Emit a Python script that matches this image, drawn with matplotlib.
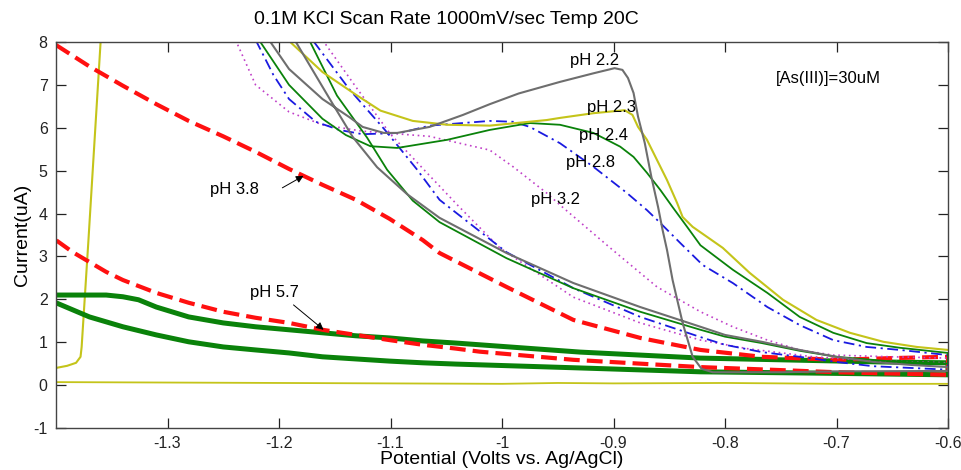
import numpy as np
import matplotlib
matplotlib.use("Agg")
import matplotlib.pyplot as plt

plt.rcParams['font.family'] = ['Liberation Sans', 'DejaVu Sans']
plt.rcParams['axes.unicode_minus'] = False

# --- DATA ---

# pH 2.2 (gray): forward branch, then return branch
ph22_x = [-1.209, -1.191, -1.161, -1.137, -1.125, -1.106, -1.094, -1.065, -1.035, -1.011,
          -0.985, -0.948, -0.918, -0.899, -0.892, -0.887, -0.882, -0.878, -0.872, -0.866,
          -0.860, -0.856, -0.852, -0.847, -0.838, -0.829, -0.821, -0.811, -0.750, -0.700,
          -0.600,
          -0.600, -0.633, -0.667, -0.700, -0.733, -0.767, -0.800, -0.822, -0.876, -0.936,
          -0.996, -1.056, -1.085, -1.112, -1.134, -1.154, -1.170, -1.186]
ph22_y = [8.05, 7.37, 6.67, 6.25, 6.02, 5.88, 5.88, 6.02, 6.30, 6.55,
          6.80, 7.07, 7.27, 7.39, 7.35, 7.16, 6.81, 6.26, 5.65, 4.85,
          4.15, 3.62, 3.15, 2.45, 1.45, 0.66, 0.38, 0.30, 0.30, 0.32,
          0.33,
          0.42, 0.47, 0.54, 0.66, 0.82, 1.01, 1.17, 1.36, 1.82, 2.38,
          3.08, 3.90, 4.45, 5.08, 5.79, 6.65, 7.35, 8.05]

# pH 2.3 (yellow) forward branch
ph23_x = [-1.192, -1.161, -1.131, -1.109, -1.080, -1.049, -1.011, -0.960, -0.948, -0.918,
          -0.890, -0.883, -0.878, -0.870, -0.861, -0.852, -0.843, -0.838, -0.829, -0.813,
          -0.802, -0.778, -0.748, -0.718, -0.688, -0.658, -0.628, -0.600]
ph23_y = [8.05, 7.30, 6.77, 6.40, 6.16, 6.07, 6.05, 6.18, 6.23, 6.34,
          6.41, 6.30, 6.02, 5.72, 5.25, 4.78, 4.25, 3.92, 3.69, 3.40,
          3.20, 2.62, 1.99, 1.52, 1.22, 1.01, 0.89, 0.82]
# yellow rise at the left edge and yellow baseline
spike_x = [-1.400, -1.390, -1.382, -1.378, -1.377, -1.371, -1.358]
spike_y = [0.40, 0.45, 0.52, 0.66, 0.89, 3.34, 8.85]
base_x = [-1.40, -1.30, -1.20, -1.10, -1.00, -0.95, -0.90, -0.80, -0.70, -0.60]
base_y = [0.07, 0.06, 0.05, 0.04, 0.03, 0.05, 0.04, 0.05, 0.03, 0.03]

# pH 2.4 (green, thin)
ph24_x = [-1.218, -1.191, -1.161, -1.140, -1.118, -1.094, -1.049, -1.011, -0.975, -0.948,
          -0.918, -0.894, -0.882, -0.870, -0.858, -0.847, -0.834, -0.822, -0.793, -0.762,
          -0.733, -0.703, -0.673, -0.643, -0.600,
          -0.600, -0.650, -0.700, -0.733, -0.767, -0.800, -0.822, -0.876, -0.936, -0.996,
          -1.056, -1.080, -1.103, -1.121, -1.148, -1.173]
ph24_y = [8.05, 7.00, 6.21, 5.83, 5.57, 5.53, 5.72, 5.95, 6.11, 6.07,
          5.88, 5.56, 5.32, 4.95, 4.55, 4.15, 3.69, 3.26, 2.69, 2.15,
          1.59, 1.22, 0.98, 0.87, 0.75,
          0.50, 0.55, 0.66, 0.80, 0.98, 1.13, 1.29, 1.71, 2.26, 2.96,
          3.80, 4.30, 5.02, 5.77, 6.75, 8.05]

# pH 2.8 (blue dash-dot)
ph28_x = [-1.221, -1.205, -1.191, -1.167, -1.146, -1.125, -1.091, -1.065, -1.011, -0.990,
          -0.975, -0.948, -0.918, -0.888, -0.870, -0.858, -0.840, -0.820, -0.793, -0.762,
          -0.733, -0.703, -0.673, -0.643, -0.600,
          -0.600, -0.633, -0.667, -0.700, -0.733, -0.767, -0.800, -0.822, -0.876, -0.936,
          -0.996, -1.056, -1.076, -1.105, -1.137, -1.170]
ph28_y = [8.05, 7.23, 6.67, 6.14, 5.95, 5.85, 5.88, 6.05, 6.16, 6.14,
          6.02, 5.64, 5.09, 4.48, 4.08, 3.78, 3.31, 2.80, 2.38, 1.82,
          1.40, 1.05, 0.89, 0.82, 0.70,
          0.36, 0.40, 0.44, 0.54, 0.66, 0.77, 0.94, 1.12, 1.59, 2.26,
          3.10, 4.32, 5.02, 5.95, 6.90, 8.05]

# pH 3.2 (magenta dotted)
ph32_x = [-1.239, -1.221, -1.191, -1.161, -1.125, -1.065, -1.011, -0.990, -0.960, -0.948,
          -0.903, -0.861, -0.822, -0.793, -0.762, -0.733, -0.703, -0.650, -0.600,
          -0.600, -0.661, -0.721, -0.780, -0.822, -0.876, -0.936, -1.002, -1.040, -1.071,
          -1.100, -1.131, -1.161]
ph32_y = [8.05, 7.00, 6.37, 6.07, 5.92, 5.80, 5.48, 5.09, 4.48, 4.20,
          3.20, 2.29, 1.71, 1.36, 1.05, 0.82, 0.70, 0.66, 0.63,
          0.52, 0.56, 0.66, 0.85, 1.05, 1.45, 2.05, 3.20, 4.20, 5.05,
          5.85, 6.95, 8.05]

# pH 3.8 (red dashed)
ph38_x = [-1.400, -1.370, -1.340, -1.310, -1.281, -1.250, -1.221, -1.191, -1.161, -1.131,
          -1.101, -1.071, -1.056, -0.996, -0.936, -0.876, -0.822, -0.767, -0.700, -0.650,
          -0.600,
          -0.600, -0.700, -0.750, -0.822, -0.876, -0.936, -1.020, -1.041, -1.071, -1.101,
          -1.131, -1.161, -1.191, -1.221, -1.250, -1.281, -1.310, -1.340, -1.355, -1.370,
          -1.385, -1.400]
ph38_y = [7.93, 7.43, 6.98, 6.55, 6.16, 5.80, 5.44, 5.04, 4.67, 4.32,
          3.88, 3.38, 3.08, 2.29, 1.52, 1.10, 0.82, 0.66, 0.59, 0.63,
          0.66,
          0.24, 0.30, 0.35, 0.42, 0.50, 0.59, 0.78, 0.85, 0.94, 1.05,
          1.17, 1.29, 1.45, 1.57, 1.71, 1.92, 2.15, 2.45, 2.64, 2.87,
          3.10, 3.38]

# pH 5.7 (green, thick)
ph57_x = [-1.400, -1.355, -1.340, -1.326, -1.310, -1.281, -1.250, -1.221, -1.191, -1.161,
          -1.131, -1.101, -1.071, -1.041, -0.930, -0.822, -0.750, -0.660, -0.600,
          -0.600, -0.720, -0.822, -0.930, -1.041, -1.071, -1.101, -1.131, -1.161, -1.191,
          -1.221, -1.250, -1.281, -1.310, -1.340, -1.370, -1.400]
ph57_y = [2.10, 2.10, 2.06, 1.99, 1.82, 1.59, 1.45, 1.36, 1.29, 1.22,
          1.15, 1.10, 1.03, 0.98, 0.77, 0.63, 0.59, 0.54, 0.52,
          0.24, 0.28, 0.31, 0.40, 0.49, 0.52, 0.56, 0.61, 0.66, 0.75,
          0.82, 0.89, 1.01, 1.17, 1.36, 1.59, 1.92]

# --- PLOT ---
fig = plt.figure(figsize=(9.61, 4.70), dpi=100)
ax = fig.add_axes([56 / 961, 42 / 470, 892 / 961, 386 / 470])

yellow = '#c4c41a'
gray = '#6e6e6e'
green = '#0a820a'

ax.plot(base_x, base_y, color=yellow, lw=1.3)
ax.plot(spike_x, spike_y, color=yellow, lw=1.5)
ax.plot(ph57_x, ph57_y, color=green, lw=3.6)
ax.plot(ph38_x, ph38_y, color='#ff1010', lw=3.0, ls=(0, (3.8, 1.7)))
ax.plot(ph32_x, ph32_y, color='#c040c8', lw=1.2, ls=(0, (1, 2.2)))
ax.plot(ph28_x, ph28_y, color='#1a1ae0', lw=1.3, ls=(0, (6, 2.5, 1.2, 2.5)))
ax.plot(ph24_x, ph24_y, color=green, lw=1.3)
ax.plot(ph23_x, ph23_y, color=yellow, lw=1.5)
ax.plot(ph22_x, ph22_y, color=gray, lw=1.5)

ax.set_xlim(-1.4, -0.6)
ax.set_ylim(-1, 8)
xt = [-1.3, -1.2, -1.1, -1.0, -0.9, -0.8, -0.7, -0.6]
ax.set_xticks(xt)
ax.set_xticklabels(['-1.3', '-1.2', '-1.1', '-1', '-0.9', '-0.8', '-0.7', '-0.6'])
ax.set_yticks(range(-1, 9))
ax.tick_params(direction='in', length=7, width=0.9, top=True, right=True,
               labelsize=11.5, pad=6, colors='#222222')
for sp in ax.spines.values():
    sp.set_color('#444444')
    sp.set_linewidth(1.0)

ax.set_xlabel('Potential (Volts vs. Ag/AgCl)', fontsize=14, labelpad=0)
ax.set_ylabel('Current(uA)', fontsize=14, labelpad=2)
fig.text(446 / 961, 1 - 19 / 470, '0.1M KCl Scan Rate 1000mV/sec Temp 20C',
         ha='center', va='center', fontsize=14)

lab = dict(fontsize=12, ha='center', va='center')
ax.text(-0.917, 7.56, 'pH 2.2', **lab)
ax.text(-0.902, 6.48, 'pH 2.3', **lab)
ax.text(-0.909, 5.81, 'pH 2.4', **lab)
ax.text(-0.921, 5.20, 'pH 2.8', **lab)
ax.text(-0.952, 4.32, 'pH 3.2', **lab)
ax.text(-0.707, 7.16, '[As(III)]=30uM', **lab)
ax.text(-1.240, 4.55, 'pH 3.8', **lab)
ax.text(-1.204, 2.15, 'pH 5.7', **lab)

arrow = dict(arrowstyle='-|>', color='k', lw=0.7, mutation_scale=11,
             shrinkA=0, shrinkB=0)
ax.annotate('', xy=(-1.178, 4.88), xytext=(-1.197, 4.60), arrowprops=arrow)
ax.annotate('', xy=(-1.160, 1.29), xytext=(-1.187, 1.87), arrowprops=arrow)

fig.savefig('out.png', dpi=100)
